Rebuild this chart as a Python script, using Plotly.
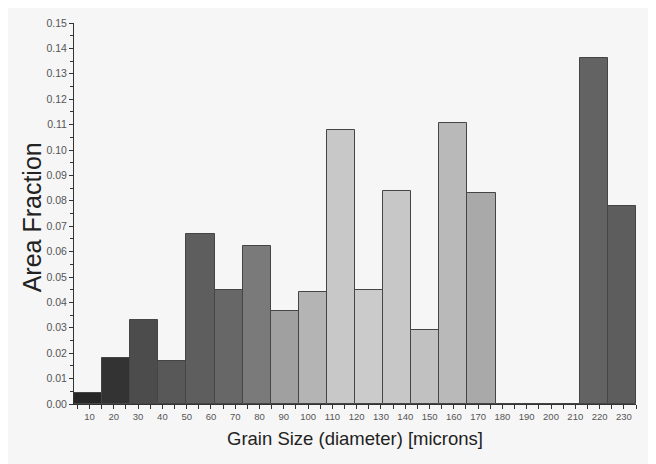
import numpy as np
import plotly.graph_objects as go

# Histogram bins (20 equal bins spanning the axis) and their area fractions
bin_start = 3.6
bin_end = 235.0
area_fraction = [0.0045, 0.0182, 0.0331, 0.0169, 0.0669, 0.0449, 0.0622, 0.0366,
                 0.0441, 0.1079, 0.0449, 0.0839, 0.0291, 0.1108, 0.0830, 0.0,
                 0.0, 0.0, 0.1361, 0.0780]
bar_colors = ["#272727", "#333333", "#4c4c4c", "#585858", "#5e5e5e", "#676767",
              "#7a7a7a", "#a0a0a0", "#b4b4b4", "#c8c8c8", "#cbcbcb", "#c7c7c7",
              "#c1c1c1", "#b9b9b9", "#a9a9a9", "#a9a9a9", "#a9a9a9", "#a9a9a9",
              "#636363", "#5d5d5d"]
x_ticks = list(range(10, 231, 10))
x_tick_labels = [str(v) for v in x_ticks]
y_ticks = [round(0.01 * i, 2) for i in range(16)]
y_tick_labels = ["%.2f" % v for v in y_ticks]

edges = np.linspace(bin_start, bin_end, len(area_fraction) + 1)
centers = (edges[:-1] + edges[1:]) / 2
width = edges[1] - edges[0]

fig = go.Figure()
fig.add_trace(go.Bar(
    x=centers, y=area_fraction, width=width,
    marker=dict(color=bar_colors, line=dict(color="#454545", width=1)),
    showlegend=False, hoverinfo="x+y",
))

font_family = "Liberation Sans, Arial, sans-serif"
fig.update_layout(
    width=641, height=456,
    margin=dict(l=66, r=13, t=15, b=60, autoexpand=False),
    paper_bgcolor="#f6f6f6", plot_bgcolor="rgba(0,0,0,0)",
    font=dict(family=font_family, color="#555555", size=9),
    bargap=0,
    annotations=[dict(text="Area Fraction", textangle=-90, showarrow=False,
                      xref="paper", yref="paper", x=-0.0747, y=0.49,
                      xanchor="center", yanchor="middle",
                      font=dict(size=25, color="#222222"))],
    xaxis=dict(
        automargin=False,
        range=[bin_start, bin_end], tickmode="array", tickvals=x_ticks,
        ticktext=x_tick_labels, showgrid=False, zeroline=False,
        showline=True, linecolor="#333333", linewidth=1,
        ticks="outside", ticklen=4, tickcolor="#333333",
        minor=dict(dtick=5, tick0=5, ticks="outside", ticklen=4, tickcolor="#333333"),
        tickfont=dict(size=9.5, color="#555555"),
        title=dict(text="Grain Size (diameter) [microns]",
                   font=dict(size=18.5, color="#222222"), standoff=10),
    ),
    yaxis=dict(
        automargin=False,
        range=[0, 0.15], tickmode="array", tickvals=y_ticks,
        ticktext=y_tick_labels, showgrid=False, zeroline=False,
        showline=True, linecolor="#333333", linewidth=1,
        ticks="outside", ticklen=4, tickcolor="#333333",
        minor=dict(dtick=0.005, tick0=0.005, ticks="outside", ticklen=3, tickcolor="#333333"),
        tickfont=dict(size=10.5, color="#555555"),
    ),
    yaxis2=dict(
        automargin=False,
        overlaying="y", side="left", range=[0, 0.15], tickmode="array",
        tickvals=y_ticks, showticklabels=False, showgrid=False, zeroline=False,
        showline=False, ticks="inside", ticklen=4, tickcolor="#333333",
        minor=dict(dtick=0.005, tick0=0.005, ticks="inside", ticklen=3, tickcolor="#333333"),
    ),
)

fig.write_html("out.html")
